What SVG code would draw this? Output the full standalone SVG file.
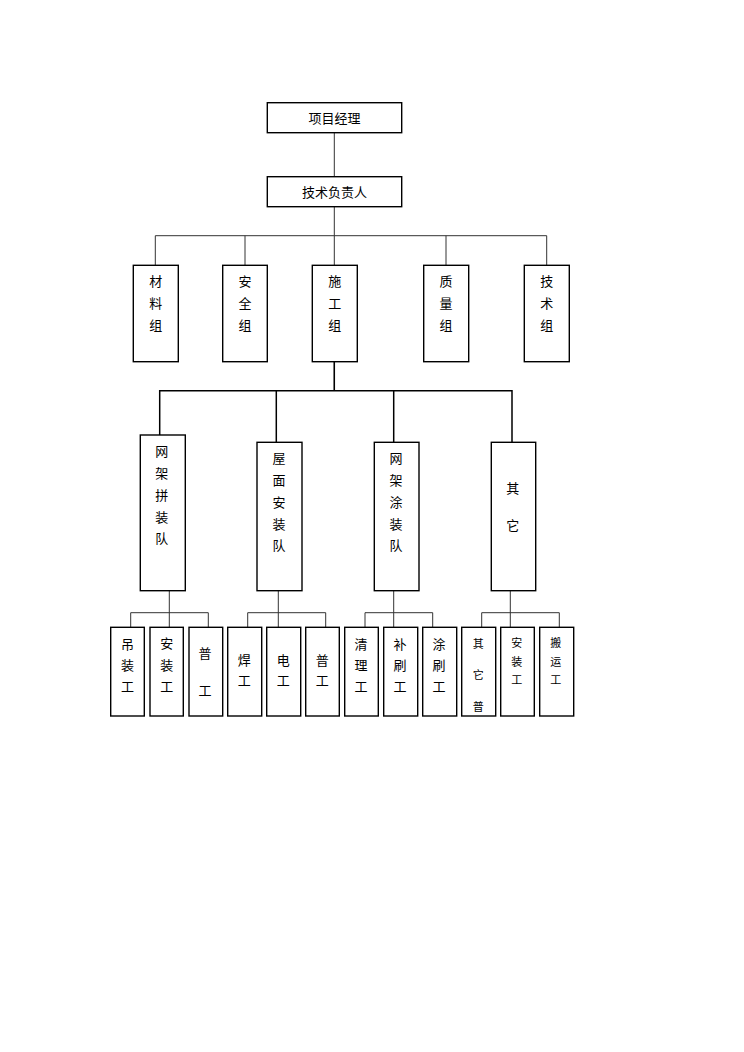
<svg xmlns="http://www.w3.org/2000/svg" width="744" height="1052" viewBox="0 0 744 1052">
<style>
rect{fill:#fff;stroke:#000;stroke-width:1.4}
text{font-family:"Liberation Sans","Noto Sans CJK SC",sans-serif;font-size:13px;fill:#000;text-anchor:middle;dominant-baseline:central}
.s{font-size:11px}
.c{fill:none;stroke:#333;stroke-width:1}
.k{fill:none;stroke:#000;stroke-width:1.5}
</style>
<rect x="0" y="0" width="744" height="1052" style="stroke:none"/>
<g id="connectors">
<path class="c" d="M334.3 133V177M334.3 207V390.7M155.3 265V235.7H546.7V265M245 235.7V265M446 235.7V265"/>
<path class="k" d="M334.3 361.7V390.7M159.7 435V390.7H512V442.3M276.3 390.7V442.3M393.7 390.7V442.3"/>
<path class="c" d="M130.7 627.3V612.7H208.3V627.3M169.3 590.7V627.3"/>
<path class="c" d="M247.7 627.3V612.7H325.7V627.3M278.3 590.7V627.3"/>
<path class="c" d="M365 627.3V612.7H432.7V627.3M393.7 590.7V627.3"/>
<path class="c" d="M481.7 627.3V612.7H559.3V627.3M510.3 590.7V627.3"/>
</g>
<g id="n-pm"><rect x="267.3" y="102.7" width="134.4" height="30"/><text x="334.5" y="118">项目经理</text></g>
<g id="n-tech-lead"><rect x="267.3" y="176.7" width="134.4" height="30"/><text x="334.5" y="192">技术负责人</text></g>
<g id="n-material"><rect x="133.3" y="265.3" width="45" height="96.4"/><text x="155.8" y="281.7">材</text><text x="155.8" y="303">料</text><text x="155.8" y="325">组</text></g>
<g id="n-safety"><rect x="222.7" y="265.3" width="44.6" height="96.4"/><text x="245" y="281.7">安</text><text x="245" y="303">全</text><text x="245" y="325">组</text></g>
<g id="n-construction"><rect x="312.3" y="265.3" width="45" height="96.4"/><text x="334.8" y="281.7">施</text><text x="334.8" y="303">工</text><text x="334.8" y="325">组</text></g>
<g id="n-quality"><rect x="423.7" y="265.3" width="45" height="96.4"/><text x="446" y="281.7">质</text><text x="446" y="303">量</text><text x="446" y="325">组</text></g>
<g id="n-technical"><rect x="524.3" y="265.3" width="45" height="96.4"/><text x="546.8" y="281.7">技</text><text x="546.8" y="303">术</text><text x="546.8" y="325">组</text></g>
<g id="n-team1"><rect x="140.3" y="435" width="45" height="155.7"/><text x="161.7" y="451">网</text><text x="161.7" y="473">架</text><text x="161.7" y="495">拼</text><text x="161.7" y="517">装</text><text x="161.7" y="538">队</text></g>
<g id="n-team2"><rect x="257" y="442.3" width="45" height="148.4"/><text x="279" y="458">屋</text><text x="279" y="480">面</text><text x="279" y="502">安</text><text x="279" y="524">装</text><text x="279" y="545">队</text></g>
<g id="n-team3"><rect x="374.3" y="442.3" width="44.7" height="148.4"/><text x="396" y="458">网</text><text x="396" y="480">架</text><text x="396" y="502">涂</text><text x="396" y="524">装</text><text x="396" y="545">队</text></g>
<g id="n-team4"><rect x="491.3" y="442.3" width="44.4" height="148.4"/><text x="512.7" y="488">其</text><text x="512.7" y="525">它</text></g>
<g id="n-w1"><rect x="110.7" y="627.3" width="33.6" height="88.7"/><text x="127.5" y="644">吊</text><text x="127.5" y="665">装</text><text x="127.5" y="686.7">工</text></g>
<g id="n-w2"><rect x="150" y="627.3" width="33.3" height="88.7"/><text x="166.7" y="643">安</text><text x="166.7" y="665">装</text><text x="166.7" y="686.7">工</text></g>
<g id="n-w3"><rect x="189" y="627.3" width="33.7" height="88.7"/><text x="205" y="653">普</text><text x="205" y="690">工</text></g>
<g id="n-w4"><rect x="227.7" y="627.3" width="34" height="88.7"/><text x="244.3" y="660">焊</text><text x="244.3" y="680">工</text></g>
<g id="n-w5"><rect x="266.7" y="627.3" width="34" height="88.7"/><text x="283.3" y="660">电</text><text x="283.3" y="680">工</text></g>
<g id="n-w6"><rect x="305.7" y="627.3" width="33.6" height="88.7"/><text x="322.3" y="660">普</text><text x="322.3" y="680">工</text></g>
<g id="n-w7"><rect x="344.7" y="627.3" width="33.6" height="88.7"/><text x="361" y="644">清</text><text x="361" y="665">理</text><text x="361" y="686.7">工</text></g>
<g id="n-w8"><rect x="383.7" y="627.3" width="34" height="88.7"/><text x="400" y="644">补</text><text x="400" y="665">刷</text><text x="400" y="686.7">工</text></g>
<g id="n-w9"><rect x="422.7" y="627.3" width="34" height="88.7"/><text x="439" y="644">涂</text><text x="439" y="665">刷</text><text x="439" y="686.7">工</text></g>
<g id="n-w10"><rect x="461.7" y="627.3" width="34" height="88.7"/><text class="s" x="478.3" y="644">其</text><text class="s" x="478.3" y="675">它</text><text class="s" x="478.3" y="706.5">普</text></g>
<g id="n-w11"><rect x="500.7" y="627.3" width="33.6" height="88.7"/><text class="s" x="516.7" y="643">安</text><text class="s" x="516.7" y="661.7">装</text><text class="s" x="516.7" y="680">工</text></g>
<g id="n-w12"><rect x="539.7" y="627.3" width="34" height="88.7"/><text class="s" x="555.7" y="643">搬</text><text class="s" x="555.7" y="661.7">运</text><text class="s" x="555.7" y="680">工</text></g>
</svg>
